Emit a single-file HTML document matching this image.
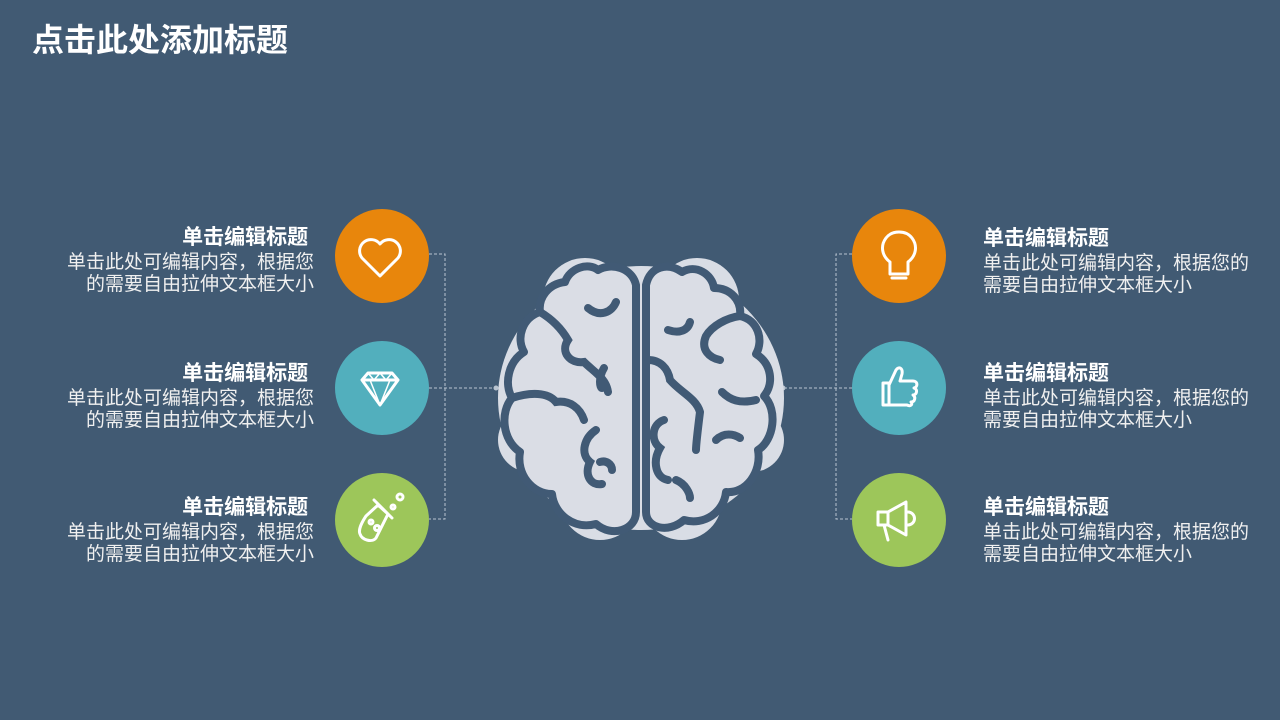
<!DOCTYPE html>
<html><head><meta charset="utf-8"><style>
body{margin:0;width:1280px;height:720px;background:#415a73;overflow:hidden;position:relative;font-family:"Liberation Sans","Noto Sans CJK SC",sans-serif;color:#fff}
.t{position:absolute;font-size:32px;font-weight:bold;left:32px;top:18px;line-height:44px}
.blk{position:absolute;width:320px}
.blk h3{margin:0;font-size:21px;font-weight:bold;line-height:28px}
.blk p{margin:0;font-size:19px;line-height:22px;color:#f0f0f0}
.L{text-align:right;left:-6px}
.R{text-align:left;left:983px;width:297px}
.c{position:absolute;width:94px;height:94px;border-radius:50%}
</style></head><body>
<div class="t">点击此处添加标题</div>

<div class="blk L" style="top:224px"><h3>单击编辑标题&nbsp;</h3><p>单击此处可编辑内容，根据您<br>的需要自由拉伸文本框大小</p></div>
<div class="blk L" style="top:360px"><h3>单击编辑标题&nbsp;</h3><p>单击此处可编辑内容，根据您<br>的需要自由拉伸文本框大小</p></div>
<div class="blk L" style="top:494px"><h3>单击编辑标题&nbsp;</h3><p>单击此处可编辑内容，根据您<br>的需要自由拉伸文本框大小</p></div>
<div class="blk R" style="top:225px"><h3>单击编辑标题</h3><p>单击此处可编辑内容，根据您的<br>需要自由拉伸文本框大小</p></div>
<div class="blk R" style="top:360px"><h3>单击编辑标题</h3><p>单击此处可编辑内容，根据您的<br>需要自由拉伸文本框大小</p></div>
<div class="blk R" style="top:494px"><h3>单击编辑标题</h3><p>单击此处可编辑内容，根据您的<br>需要自由拉伸文本框大小</p></div>

<div class="c" style="left:335px;top:209px;background:#e8860c"></div>
<div class="c" style="left:335px;top:341px;background:#52afbd"></div>
<div class="c" style="left:335px;top:473px;background:#9dc65a"></div>
<div class="c" style="left:852px;top:209px;background:#e8860c"></div>
<div class="c" style="left:852px;top:341px;background:#52afbd"></div>
<div class="c" style="left:852px;top:473px;background:#9dc65a"></div>

<svg width="1280" height="720" style="position:absolute;left:0;top:0">
<g stroke="#b9c4d0" stroke-width="1" stroke-dasharray="3,2" fill="none">
<path d="M429 254H445V519H429M429 388H496"/>
<path d="M852 254H836V519H852M852 388H783"/>
</g>
<circle cx="496" cy="388" r="2.5" fill="#b9c4d0"/><circle cx="783" cy="388" r="2.5" fill="#b9c4d0"/>
<g stroke="#fff" stroke-width="3" fill="none" stroke-linecap="round" stroke-linejoin="round">
<path d="M380 276 L362 258 A10 10 0 0 1 380 244 A10 10 0 0 1 398 258 Z"/>
<path d="M362 380H398L380 405Z M362 380L368 373H392L398 380" />
<path d="M370 380L380 405L390 380M368 373L374 380L380 373L386 380L392 373" stroke-width="1.5"/>
<path d="M378 505L388 514L376 538C372 543 362 540 360 534C358 530 362 522 366 516Z M374 500L392 518"/>
<circle cx="400" cy="497" r="3"/><circle cx="393" cy="507" r="2"/><circle cx="371" cy="522" r="2"/><circle cx="377" cy="528" r="2.5"/>
<path d="M890 262C882 256 880 246 886 238C892 230 906 230 912 238C918 246 916 256 908 262V274H890Z M892 278H906"/>
<path d="M883 383H889V405H883Z M889 385L896 370C899 366 903 368 902 374L900 381H913C918 381 918 387 914 388C918 389 917 395 913 395C916 397 915 402 911 402C913 404 911 407 907 405H889"/>
<path d="M878 512H888V525H878Z M888 512L906 502V535L888 525 M908 512A6 6 0 0 1 908 525 M884 525L888 540"/>
</g>
<g fill="#d9dde5">
<ellipse cx="641" cy="398" rx="143" ry="132"/>
<circle cx="585" cy="300" r="42"/><circle cx="697" cy="300" r="42"/>
<circle cx="600" cy="500" r="40"/><circle cx="682" cy="500" r="40"/>
<circle cx="530" cy="440" r="32"/><circle cx="752" cy="440" r="32"/>
</g>
<g fill="#dadde5" stroke="#415a75" stroke-width="8" stroke-linejoin="round" stroke-linecap="round">
<path d="M636 285C632 268 612 262 598 270C588 262 570 268 565 282C548 284 538 298 540 312C522 318 516 338 524 352C508 362 504 384 512 398C500 412 502 440 520 452C516 474 532 494 552 494C554 514 574 530 596 524C612 538 636 530 636 512Z"/>
<path d="M646 285C650 266 668 262 682 272C696 264 712 274 714 288C730 288 742 300 740 316C758 320 764 340 756 354C772 364 774 384 764 396C778 410 774 440 758 450C762 472 746 494 726 492C724 512 704 526 684 520C668 534 646 528 646 512Z"/>
</g>
<g fill="none" stroke="#415a75" stroke-width="8" stroke-linecap="round">
<path d="M588 308C600 318 612 312 616 302M540 312C550 318 560 326 568 340C560 352 570 364 584 362C594 372 606 378 608 392M604 368C598 378 600 388 602 388M512 398C530 392 548 392 556 402C570 400 580 408 584 420M596 430C584 438 580 454 590 462C584 474 590 486 602 484M600 462C606 460 612 464 612 470"/>
<path d="M668 330C680 334 688 330 690 322M740 316C726 318 712 326 706 336M706 336C700 350 710 358 720 360M648 360C660 360 668 368 670 380C680 392 696 398 700 412M756 400C740 404 730 400 722 392M700 412C698 428 696 444 696 450M716 440C724 432 734 434 740 438M664 420C652 424 650 440 660 448C652 462 656 478 668 480M676 480C686 484 690 494 690 498"/>
</g>
</svg>
</body></html>
